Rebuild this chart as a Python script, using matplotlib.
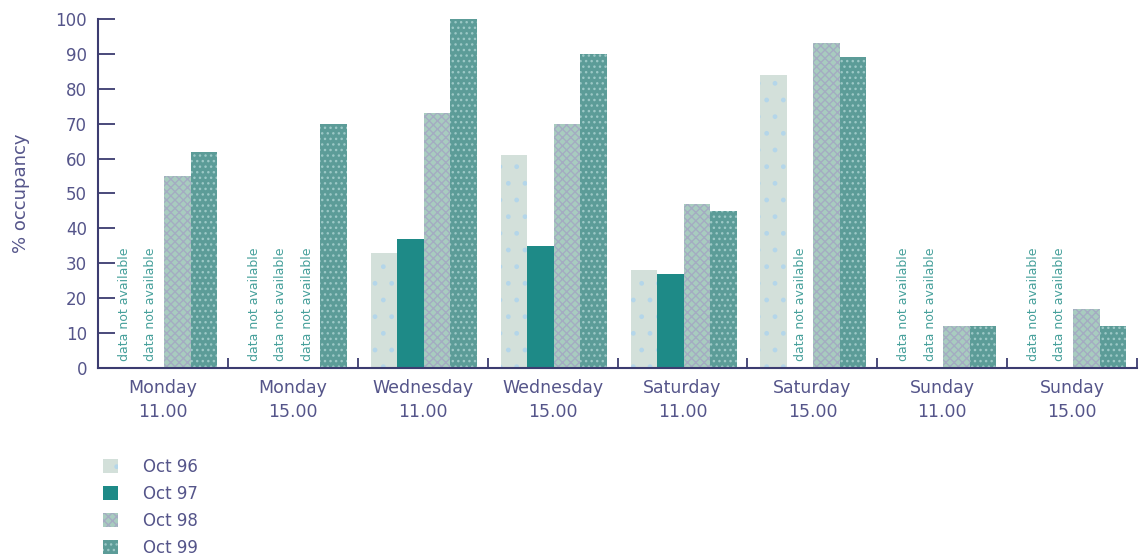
import matplotlib
matplotlib.use("Agg")
import matplotlib.pyplot as plt
from matplotlib.patches import Patch
import numpy as np

# Occupancy survey: % of spaces occupied by day/time, for four October surveys
categories = ["Monday\n11.00", "Monday\n15.00", "Wednesday\n11.00", "Wednesday\n15.00",
              "Saturday\n11.00", "Saturday\n15.00", "Sunday\n11.00", "Sunday\n15.00"]
series_names = ["Oct 96", "Oct 97", "Oct 98", "Oct 99"]

# None = data not available
oct96 = [None, None, 33, 61, 28, 84, None, None]
oct97 = [None, None, 37, 35, 27, None, None, None]
oct98 = [55, None, 73, 70, 47, 93, 12, 17]
oct99 = [62, 70, 100, 90, 45, 89, 12, 12]

yticks = [0, 10, 20, 30, 40, 50, 60, 70, 80, 90, 100]

series = [oct96, oct97, oct98, oct99]
face_colors = ["#d3e0da", "#1e8a87", "#a8ccbf", "#5c9c98"]
hatch_colors = ["#b4d6ea", "#23908d", "#a4acc2", "#9cc8c6"]
hatches = [".", "", "xxxx", "..."]

text_color = "#55558a"
axis_color = "#3c3c70"
na_color = "#46a09b"

plt.rcParams["font.family"] = ["DejaVu Sans"]
plt.rcParams["hatch.linewidth"] = 1.0

fig = plt.figure(figsize=(11.44, 5.6), dpi=100)
ax = fig.add_axes([0.0857, 0.343, 0.9083, 0.623])

pad = 0.1
bw = 0.204
for k, (vals, fc, hc, h) in enumerate(zip(series, face_colors, hatch_colors, hatches)):
    for i, v in enumerate(vals):
        x = i + pad + bw * (k + 0.5)
        if v is None:
            ax.text(x, 2, "data not available", rotation=90, ha="center", va="bottom",
                    fontsize=9, color=na_color)
        else:
            ax.bar(x, v, width=bw, color=fc, edgecolor=hc, hatch=h, linewidth=0)

ax.set_xlim(0, 8)
ax.set_ylim(0, 100)

for s in ["top", "right"]:
    ax.spines[s].set_visible(False)
for s in ["left", "bottom"]:
    ax.spines[s].set_color(axis_color)
    ax.spines[s].set_linewidth(1.5)

ax.set_yticks(yticks)
ax.set_yticklabels([str(t) for t in yticks])
ax.tick_params(axis="y", direction="in", length=12, width=1.3, color=axis_color,
               labelcolor=text_color, labelsize=12, pad=8)

ax.set_xticks(np.arange(8) + 0.5)
ax.set_xticklabels(categories, linespacing=1.45)
ax.tick_params(axis="x", which="major", length=0, labelcolor=text_color,
               labelsize=12.5, pad=8)
ax.set_xticks(np.arange(1, 9), minor=True)
ax.tick_params(axis="x", which="minor", direction="in", length=7, width=1.3,
               color=axis_color)

ax.set_ylabel("% occupancy", color=text_color, fontsize=13, labelpad=18)

handles = [Patch(facecolor=fc, edgecolor=hc, hatch=h, linewidth=0)
           for fc, hc, h in zip(face_colors, hatch_colors, hatches)]
fig.legend(handles, series_names, loc="upper left", bbox_to_anchor=(0.09, 0.183),
           frameon=False, fontsize=12, handlelength=0.9, handleheight=0.9,
           handletextpad=1.5, labelspacing=0.55, labelcolor=text_color,
           borderaxespad=0, borderpad=0)

fig.savefig("out.png", dpi=100)
